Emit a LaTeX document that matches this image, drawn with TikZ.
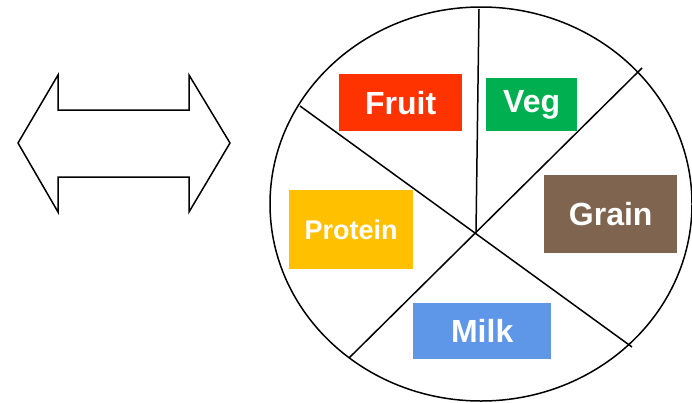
\documentclass[tikz,border=0pt]{standalone}
\usepackage{fontspec}
\setsansfont{Liberation Sans}
\usetikzlibrary{positioning,calc}

\definecolor{fruitred}{HTML}{FF3300}
\definecolor{veggreen}{HTML}{00B050}
\definecolor{grainbrown}{HTML}{7F6450}
\definecolor{proteinyellow}{HTML}{FFC000}
\definecolor{milkblue}{HTML}{5E96E8}

\begin{document}
\begin{tikzpicture}[
  x=1pt, y=-1pt,
  font=\sffamily\bfseries,
  group/.style={anchor=north west, inner sep=0pt, text=white, align=center, font=\sffamily\bfseries\fontsize{32}{33}\selectfont},
  divider/.style={line width=1.5pt, draw=black},
  outline/.style={line width=1.5pt, draw=black, line join=miter}
]
\useasboundingbox (0,0) rectangle (692,402);

% plate
\draw[outline] (481,204) ellipse [x radius=211, y radius=197];

\coordinate (hub) at (476,232);
\coordinate (rimN) at (479,9);
\coordinate (rimNE) at (642,68);
\coordinate (rimSW) at (349,358);
\coordinate (rimNW) at (300,106);
\coordinate (rimSE) at (632,347);

\draw[divider] (hub) -- (rimN);
\draw[divider] (rimSW) -- (rimNE);
\draw[divider] (rimNW) -- (rimSE);

% food groups
\node[group, fill=fruitred, minimum width=123pt, minimum height=57pt] (fruit) at (339,74) {Fruit};
\node[group, fill=veggreen, minimum width=91pt, minimum height=53pt] (veg) at (486,78) {Veg};
\node[group, fill=grainbrown, minimum width=133pt, minimum height=78pt] (grain) at (544,175) {Grain};
\node[group, fill=proteinyellow, minimum width=124pt, minimum height=79pt, font=\sffamily\bfseries\fontsize{27}{28}\selectfont] (protein) at (289,190) {Protein};
\node[group, fill=milkblue, minimum width=138pt, minimum height=56pt] (milk) at (413,303) {Milk};

% two-way arrow
\draw[outline] (18,143) -- (58,75) -- (58,110) -- (189,110) -- (189,75) -- (230,143)
  -- (189,212) -- (189,177) -- (58,177) -- (58,212) -- cycle;

\end{tikzpicture}
\end{document}
